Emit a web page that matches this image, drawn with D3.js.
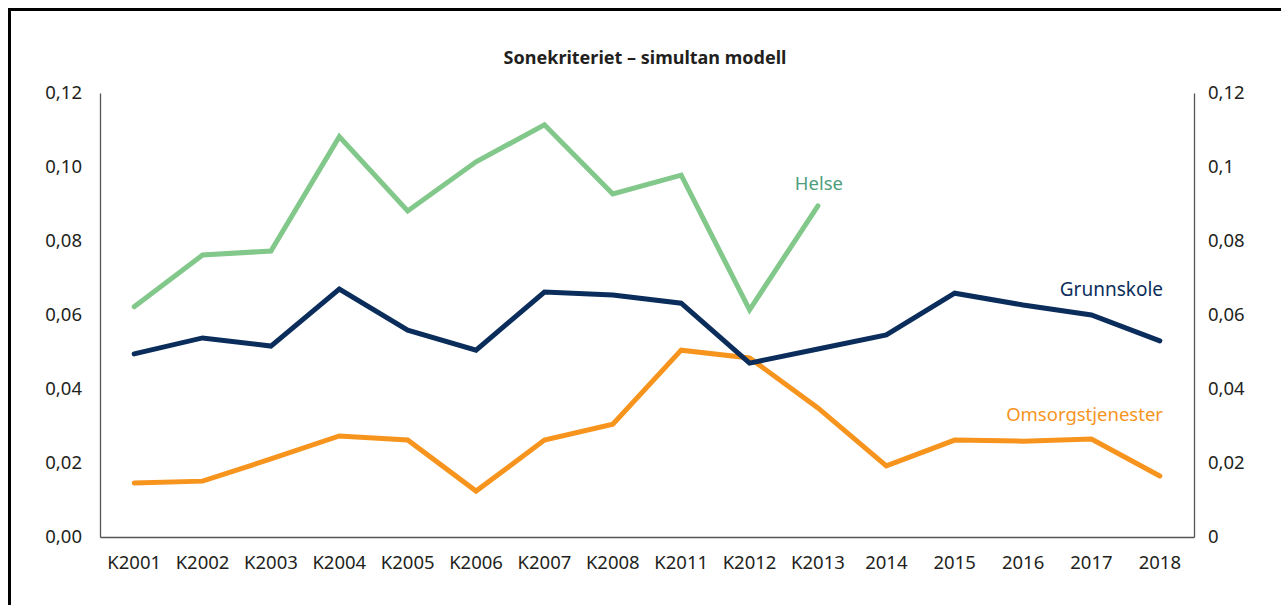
<!DOCTYPE html>
<html><head><meta charset="utf-8">
<script src="https://cdn.jsdelivr.net/npm/d3@7"></script>
<style>body{margin:0;background:#fff}svg{display:block}text{font-family:"Noto Sans",sans-serif}</style>
</head><body><svg id="c" width="1281" height="605"></svg>
<script>
const categories = ["K2001","K2002","K2003","K2004","K2005","K2006","K2007","K2008","K2011","K2012","K2013","2014","2015","2016","2017","2018"];
const helse = [0.0622,0.0762,0.0773,0.1082,0.0881,0.1014,0.1114,0.0927,0.0978,0.0614,0.0895,null,null,null,null,null];
const grunnskole = [0.0495,0.0538,0.0516,0.0670,0.0559,0.0505,0.0662,0.0654,0.0632,0.0470,0.0508,0.0546,0.0659,0.0627,0.0600,0.0530];
const omsorg = [0.0146,0.0151,0.0211,0.0273,0.0262,0.0124,0.0262,0.0305,0.0505,0.0484,0.0349,0.0192,0.0262,0.0259,0.0265,0.0165];
const leftTicks = [0,0.02,0.04,0.06,0.08,0.10,0.12];
const leftTickLabels = ["0,00","0,02","0,04","0,06","0,08","0,10","0,12"];
const rightTickLabels = ["0","0,02","0,04","0,06","0,08","0,1","0,12"];
const title = "Sonekriteriet – simultan modell";

const svg = d3.select("#c");
svg.append("rect").attr("x",9.5).attr("y",9.5).attr("width",1400).attr("height",700)
  .attr("fill","none").attr("stroke","#000").attr("stroke-width",3);

const L=100, R=1194, T=93, B=537;
const x = d3.scaleBand().domain(categories).range([L,R]);
const y = d3.scaleLinear().domain([0,0.12]).range([B,T]);

svg.append("text").attr("x",645).attr("y",64).attr("text-anchor","middle")
  .attr("font-weight","bold").attr("font-size",18).attr("fill","#231f20").text(title);

const gl = svg.append("g").attr("transform",`translate(${L},0)`)
  .call(d3.axisLeft(y).tickValues(leftTicks).tickSize(0).tickPadding(18).tickFormat((d,i)=>leftTickLabels[i]));
const gr = svg.append("g").attr("transform",`translate(${R},0)`)
  .call(d3.axisRight(y).tickValues(leftTicks).tickSize(0).tickPadding(14).tickFormat((d,i)=>rightTickLabels[i]));
const gb = svg.append("g").attr("transform",`translate(0,${B})`)
  .call(d3.axisBottom(x).tickSize(0).tickPadding(19));
[gl,gr,gb].forEach(g=>{
  g.select(".domain").attr("stroke","#555").attr("stroke-width",1.3);
  g.selectAll("text").attr("font-size",18.5).attr("fill","#231f20").style("font-family","'Noto Sans',sans-serif");
});

const line = d3.line().defined(d=>d.v!=null).x(d=>x(d.c)+x.bandwidth()/2).y(d=>y(d.v));
const mk = arr => categories.map((c,i)=>({c,v:arr[i]}));
const series = [
  {data:helse,color:"#82c88b"},
  {data:omsorg,color:"#f7941e"},
  {data:grunnskole,color:"#0b2d5b"}
];
series.forEach(s=>{
  svg.append("path").datum(mk(s.data)).attr("d",line).attr("fill","none")
    .attr("stroke",s.color).attr("stroke-width",5).attr("stroke-linejoin","miter").attr("stroke-linecap","round");
});

svg.append("text").attr("x",843).attr("y",190).attr("text-anchor","end").attr("font-size",18.5).attr("fill","#4e9e7c").text("Helse");
svg.append("text").attr("x",1163).attr("y",296).attr("text-anchor","end").attr("font-size",19).attr("fill","#0b2d5b").text("Grunnskole");
svg.append("text").attr("x",1163).attr("y",421).attr("text-anchor","end").attr("font-size",18.5).attr("fill","#f7941e").text("Omsorgstjenester");
</script></body></html>
